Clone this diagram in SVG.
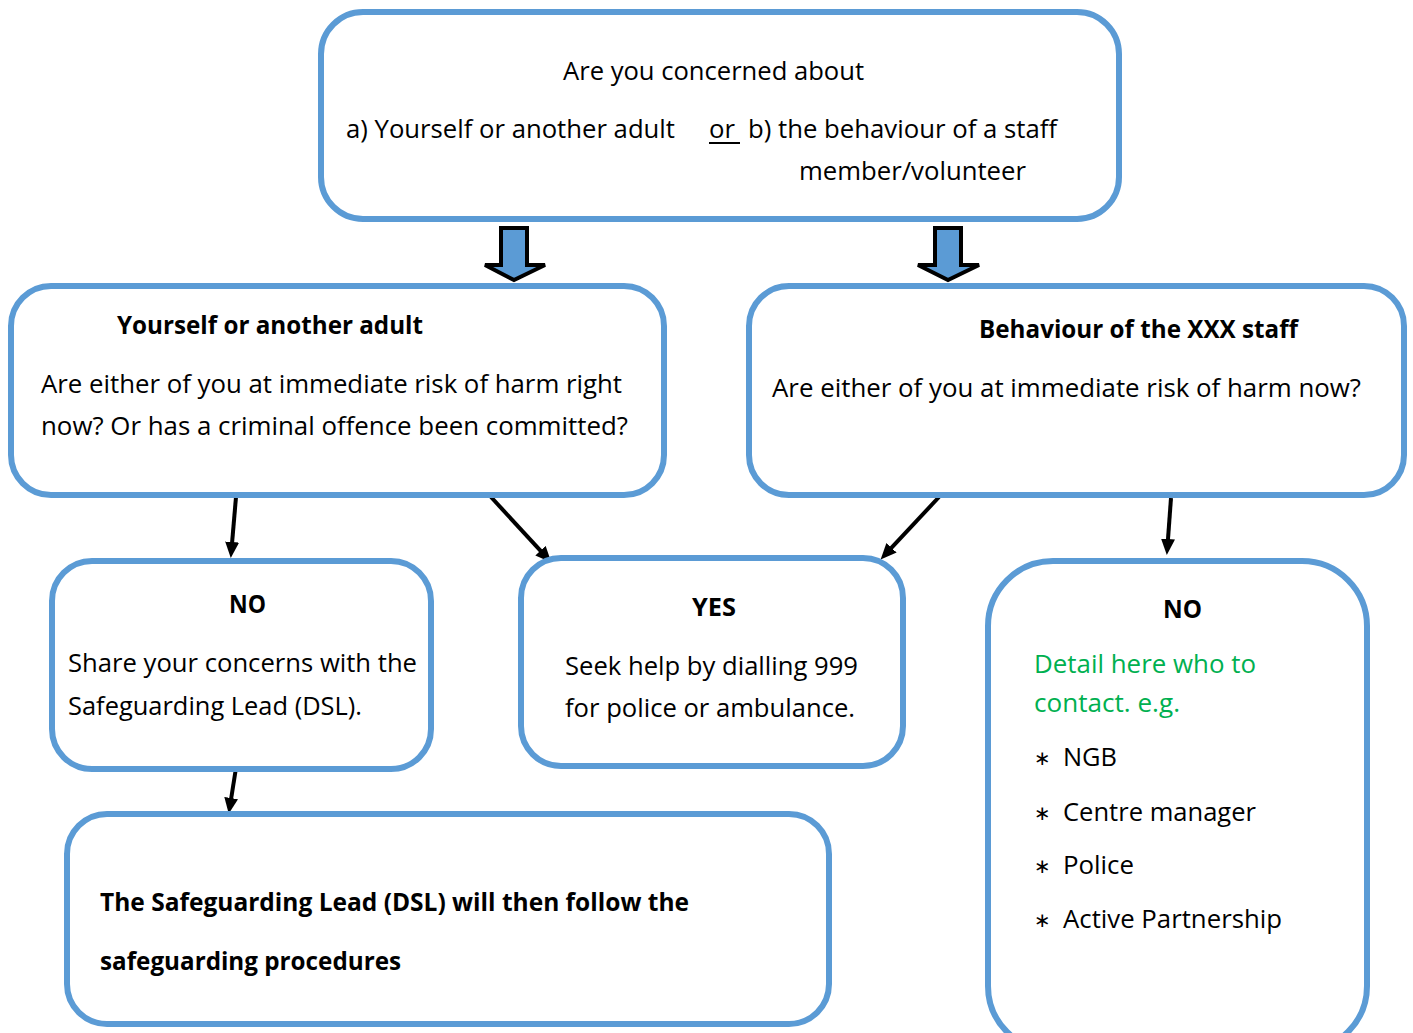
<svg xmlns="http://www.w3.org/2000/svg" width="1413" height="1033" viewBox="0 0 1413 1033">
<style>
.box{fill:#fff;stroke:#5B9BD5;stroke-width:6}
.t{font-family:"Open Sans","Liberation Sans",sans-serif;font-size:25px;fill:#000}
.b{font-weight:700}
.g{fill:#00B050}
.blk{fill:#5B9BD5;stroke:#000;stroke-width:4;stroke-linejoin:miter;stroke-miterlimit:3}
.con{stroke:#000;stroke-width:4;fill:none;marker-end:url(#ah)}
.bul{font-family:"DejaVu Sans","Liberation Sans",sans-serif;font-size:20px;fill:#000}
</style>
<defs>
<marker id="ah" markerUnits="userSpaceOnUse" markerWidth="16" markerHeight="14" refX="4" refY="7" orient="auto">
<path d="M0,0 L16,7 L0,14 z" fill="#000"/>
</marker>
</defs>
<rect width="1413" height="1033" fill="#fff"/>

<g id="connectors">
<polygon class="blk" points="501,228 527,228 527,265 545,265 514,280 485,265 501,265"/>
<polygon class="blk" points="935,228 961,228 961,265 979,265 948,280 918,265 935,265"/>
<line class="con" x1="236" y1="497" x2="231.8" y2="546"/>
<line class="con" x1="491" y1="497" x2="543.2" y2="553.6"/>
<line class="con" x1="939" y1="497" x2="888.8" y2="550.7"/>
<line class="con" x1="1171" y1="498" x2="1167.7" y2="543"/>
<line class="con" x1="236" y1="768" x2="230.6" y2="802"/>
</g>

<g id="top">
<rect class="box" x="321" y="12" width="798" height="207" rx="42"/>
<text class="t" x="563" y="80" textLength="301" lengthAdjust="spacingAndGlyphs">Are you concerned about</text>
<text class="t" x="346" y="138" textLength="329" lengthAdjust="spacingAndGlyphs">a) Yourself or another adult</text>
<text class="t" x="709" y="138" textLength="26" lengthAdjust="spacingAndGlyphs">or</text>
<line x1="709" y1="143" x2="740" y2="143" stroke="#000" stroke-width="2"/>
<text class="t" x="748" y="138" textLength="309" lengthAdjust="spacingAndGlyphs">b) the behaviour of a staff</text>
<text class="t" x="799" y="180" textLength="227" lengthAdjust="spacingAndGlyphs">member/volunteer</text>
</g>

<g id="adult">
<rect class="box" x="11" y="286" width="653" height="209" rx="40"/>
<text class="t b" x="117" y="334" textLength="306" lengthAdjust="spacingAndGlyphs">Yourself or another adult</text>
<text class="t" x="41" y="393" textLength="581" lengthAdjust="spacingAndGlyphs">Are either of you at immediate risk of harm right</text>
<text class="t" x="41" y="435" textLength="587" lengthAdjust="spacingAndGlyphs">now? Or has a criminal offence been committed?</text>
</g>

<g id="staff">
<rect class="box" x="749" y="286" width="655" height="209" rx="40"/>
<text class="t b" x="979" y="338" textLength="319" lengthAdjust="spacingAndGlyphs">Behaviour of the XXX staff</text>
<text class="t" x="772" y="397" textLength="589" lengthAdjust="spacingAndGlyphs">Are either of you at immediate risk of harm now?</text>
</g>

<g id="no-left">
<rect class="box" x="52" y="561" width="379" height="208" rx="40"/>
<text class="t b" x="229" y="613" textLength="37" lengthAdjust="spacingAndGlyphs">NO</text>
<text class="t" x="68" y="672" textLength="349" lengthAdjust="spacingAndGlyphs">Share your concerns with the</text>
<text class="t" x="68" y="715" textLength="294" lengthAdjust="spacingAndGlyphs">Safeguarding Lead (DSL).</text>
</g>

<g id="yes">
<rect class="box" x="521" y="558" width="382" height="208" rx="40"/>
<text class="t b" x="692" y="616" textLength="44" lengthAdjust="spacingAndGlyphs">YES</text>
<text class="t" x="565" y="675" textLength="293" lengthAdjust="spacingAndGlyphs">Seek help by dialling 999</text>
<text class="t" x="565" y="717" textLength="290" lengthAdjust="spacingAndGlyphs">for police or ambulance.</text>
</g>

<g id="no-right">
<rect class="box" x="988" y="561" width="379" height="490" rx="65"/>
<text class="t b" x="1163" y="618" textLength="39" lengthAdjust="spacingAndGlyphs">NO</text>
<text class="t g" x="1034" y="673" textLength="222" lengthAdjust="spacingAndGlyphs">Detail here who to</text>
<text class="t g" x="1034" y="712" textLength="146" lengthAdjust="spacingAndGlyphs">contact. e.g.</text>
<text class="bul" x="1034" y="765">∗</text>
<text class="t" x="1063" y="766" textLength="54" lengthAdjust="spacingAndGlyphs">NGB</text>
<text class="bul" x="1034" y="820">∗</text>
<text class="t" x="1063" y="821" textLength="193" lengthAdjust="spacingAndGlyphs">Centre manager</text>
<text class="bul" x="1034" y="873">∗</text>
<text class="t" x="1063" y="874" textLength="71" lengthAdjust="spacingAndGlyphs">Police</text>
<text class="bul" x="1034" y="927">∗</text>
<text class="t" x="1063" y="928" textLength="219" lengthAdjust="spacingAndGlyphs">Active Partnership</text>
</g>

<g id="dsl">
<rect class="box" x="67" y="814" width="762" height="210" rx="40"/>
<text class="t b" x="100" y="911" textLength="589" lengthAdjust="spacingAndGlyphs">The Safeguarding Lead (DSL) will then follow the</text>
<text class="t b" x="100" y="970" textLength="301" lengthAdjust="spacingAndGlyphs">safeguarding procedures</text>
</g>
</svg>
